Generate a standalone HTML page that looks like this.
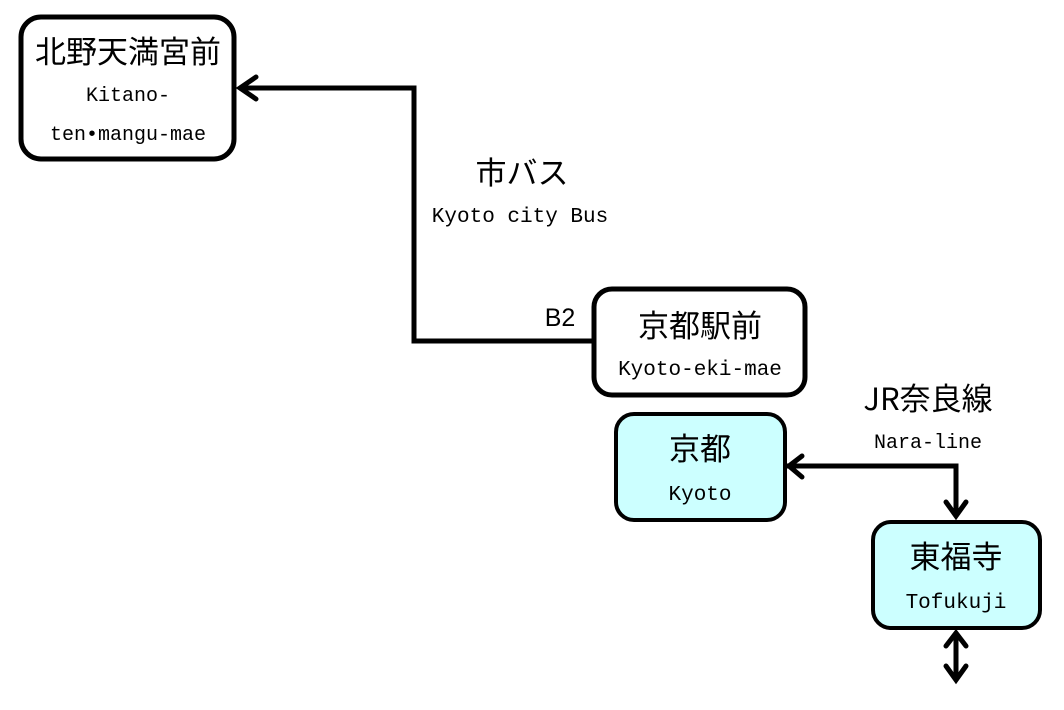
<!DOCTYPE html>
<html><head><meta charset="utf-8"><style>
body{margin:0;width:1064px;height:705px;background:#fff;overflow:hidden}
svg text{font-family:"Liberation Mono","Noto Sans CJK JP",monospace;fill:#000}
.j{font-family:"Noto Sans CJK JP","Liberation Sans",sans-serif;font-size:31px}
</style></head><body>
<svg width="1064" height="705" viewBox="0 0 1064 705" xmlns="http://www.w3.org/2000/svg">
<g fill="none" stroke="#000" stroke-width="5" stroke-linejoin="miter">
<rect x="21" y="17" width="213" height="142" rx="20" fill="#fff"/>
<rect x="594" y="289" width="211" height="106" rx="18" fill="#fff"/>
<rect x="616" y="414" width="169" height="106" rx="18" fill="#ccffff" stroke-width="4"/>
<rect x="873" y="522" width="167" height="106" rx="18" fill="#ccffff" stroke-width="4"/>
<polyline points="593,341 414,341 414,88 240,88"/>
<polyline points="256,77 240,88 256,99" stroke-linecap="round"/>
<polyline points="787,466 956,466 956,516"/>
<polyline points="802,456 789,466 802,477" stroke-linecap="round"/>
<polyline points="946,502 956,516 966,502" stroke-linecap="round"/>
<line x1="956" y1="632" x2="956" y2="680"/>
<polyline points="946,646 956,633 966,646" stroke-linecap="round"/>
<polyline points="946,666 956,680 966,666" stroke-linecap="round"/>
</g>
<g text-anchor="middle">
<text class="j" x="128" y="63">北野天満宮前</text>
<text x="128" y="101" font-size="20">Kitano-</text>
<text x="128" y="140" font-size="20">ten•mangu-mae</text>
<text class="j" x="522" y="184">市バス</text>
<text x="520" y="222" font-size="21">Kyoto city Bus</text>
<text x="560" y="326" font-size="25" style="font-family:'Liberation Sans',sans-serif">B2</text>
<text class="j" x="700" y="337">京都駅前</text>
<text x="700" y="375" font-size="21">Kyoto-eki-mae</text>
<text class="j" x="928" y="410">JR奈良線</text>
<text x="928" y="448" font-size="20">Nara-line</text>
<text class="j" x="700" y="460">京都</text>
<text x="700" y="500" font-size="21">Kyoto</text>
<text class="j" x="956" y="568">東福寺</text>
<text x="956" y="608" font-size="21">Tofukuji</text>
</g>
</svg>
</body></html>
